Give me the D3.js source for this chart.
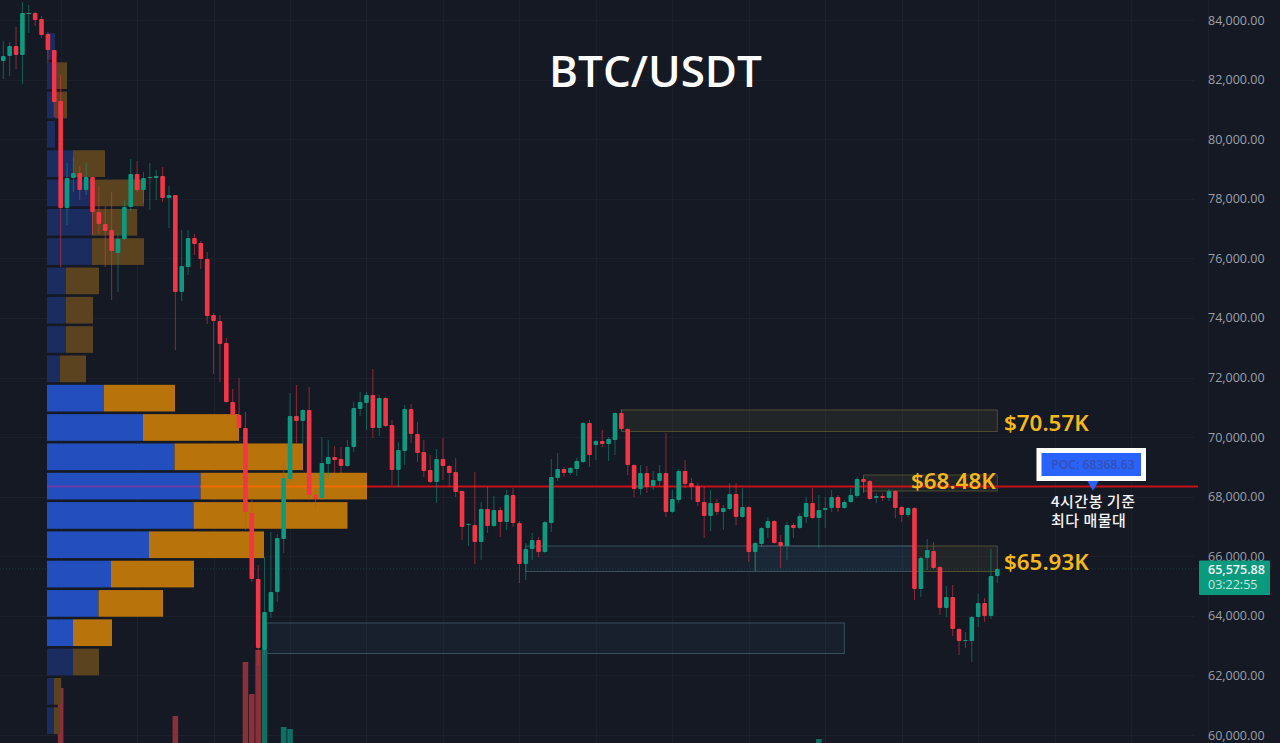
<!DOCTYPE html>
<html>
<head>
<meta charset="utf-8">
<title>BTC/USDT</title>
<script src="https://cdn.jsdelivr.net/npm/d3@7"></script>
<style>
  html, body { margin: 0; padding: 0; background: #151924; overflow: hidden; }
  svg { display: block; }
</style>
</head>
<body>
<svg id="chart"></svg>
<script>
/* global d3 */

// 4h candles
const opens = [
  82623,82792,83127,82825,84201,84234,84034,83530,82993,81281,
  77689,78696,78864,78293,78730,77555,77152,76951,76178,76649,
  77723,78831,78293,78696,78696,78764,78024,78125,74870,75709,
  76682,76514,75978,74097,73896,73158,71178,70741,70304,67451,
  65237,62853,64129,64800,66579,68593,70708,70539,70909,68056,
  67955,69097,69331,69264,69030,69667,70942,71144,71412,70304,
  71312,70405,68895,69533,70942,70104,69499,68895,68492,69264,
  69030,68827,68190,67049,67049,66478,67586,67016,67552,67150,
  68056,67116,65740,66243,66545,66143,67116,68626,68928,68794,
  68928,69164,70472,69734,69868,69768,69902,70808,70271,69063,
  68257,68794,68358,68525,68794,67485,67888,68861,68458,68358,
  67821,67351,67787,67485,67586,68089,67317,67653,66143,66411,
  66948,67183,66478,66344,67049,66948,67317,67787,67284,67552,
  67619,67988,67619,67821,68022,68593,68525,67955,68022,67955,
  68190,67653,67385,67619,64900,65941,66176,65639,64263,64632,
  63558,63155,63155,63961,64431,63994,65337
];
const highs = [
  83294,83261,83765,84604,84503,84268,84134,83597,82993,82153,
  79199,79401,79099,79199,78730,78394,77757,78226,76850,77958,
  79334,79266,78898,79199,78965,79065,78428,78125,76951,76951,
  76817,76581,76212,74164,74097,73325,71614,71983,70842,67888,
  65706,65975,66814,66747,69130,71479,71748,70942,71681,68224,
  70003,69902,69701,69667,69902,71178,71513,71513,72286,71412,
  71345,70573,69835,71077,71111,70506,69902,69398,69600,69969,
  69063,69298,68190,67116,68827,67821,68324,68022,67653,68224,
  68291,67183,66445,66780,66646,67183,69264,69465,68996,68996,
  69298,70506,70573,69902,70238,70003,70842,70942,70304,69097,
  69063,69030,68861,69063,70137,68224,68928,69231,68626,68458,
  68324,68224,67922,67720,68458,68458,68291,67687,66478,66982,
  67317,67216,66713,67150,67116,67451,67988,68291,68056,67988,
  68224,68056,67888,68291,68660,68660,68559,68123,68123,68257,
  68220,67687,67653,67650,65975,66579,66478,65670,65001,65035,
  63591,63457,63995,64733,64598,66243,65605
];
const lows = [
  82019,82120,82355,81852,83563,83799,83395,82556,80744,75709,
  77118,78226,77958,78125,76783,76850,75709,74601,74870,76615,
  77555,78226,77857,77622,77958,77891,77017,72923,74567,75440,
  76111,75642,73796,72118,71849,71150,70741,70304,66881,65136,
  62349,62685,63927,64464,66109,68525,69801,69734,67888,67619,
  67888,68626,68794,68794,68996,69499,70708,70238,69969,70037,
  70340,68391,68324,69063,69801,69164,68660,68458,67787,68559,
  68324,67988,66545,66344,65740,65874,66780,66982,66646,66881,
  66982,65102,65203,65874,65975,66110,66814,68525,68660,68727,
  68693,69130,68996,69231,69667,69197,69398,70238,68727,67988,
  68056,68123,68224,68324,67317,67451,67787,68291,67888,67687,
  66612,66847,67385,66881,67552,67049,67284,65807,65505,66311,
  66612,66415,65606,65874,66612,66915,67116,67250,66277,66948,
  67485,67485,67586,67787,67955,68123,67888,67787,67854,67854,
  67284,67150,67317,64531,64632,65538,65575,64028,63961,63323,
  62685,62920,62450,63625,63793,63894,65102
];
const closes = [
  82792,83127,82825,84234,84234,84000,83496,82993,81247,77689,
  78696,78864,78293,78730,77555,77152,76917,76245,76649,77723,
  78831,78293,78696,78730,78764,78024,78125,74870,75743,76682,
  76481,75978,74064,73896,73125,71178,70741,70304,67485,65237,
  62920,64129,64800,66612,68626,70708,70539,70909,68056,67922,
  69130,69331,69231,69030,69667,70976,71178,71412,70304,71312,
  70372,68895,69566,70942,70104,69465,68861,68492,69264,69030,
  68794,68156,66982,67083,66478,67586,67016,67552,67150,68056,
  67116,65740,66243,66545,66143,67150,68660,68928,68794,68962,
  69197,70472,69398,69868,69768,69935,70808,70271,69063,68257,
  68794,68324,68559,68794,67485,67922,68861,68425,68324,67821,
  67351,67787,67485,67619,68089,67317,67653,66143,66445,66948,
  67183,66445,66344,67049,66948,67351,67787,67284,67552,67619,
  67988,67619,67821,68056,68593,68492,67922,68022,67955,68190,
  67619,67385,67619,64900,65941,66210,65605,64263,64632,63558,
  63155,63189,63961,64431,63994,65337,65575.88
];

// only the volume bars that poke into the visible window
const volumeBars = [9, 27, 38, 39, 40, 41, 44, 45, 128];
const volumeValues = [55, 27, 81, 49, 93, 93, 16, 14, 4];

// visible range volume profile, top row first
const profileUp = [8, 10, 8, 8, 26, 46, 45, 45, 19, 19, 19, 13, 57, 96, 127.5, 153.5, 146.5, 102, 64, 51.5, 26, 26, 7, 7];
const profileDown = [0, 10, 12, 0, 32, 51, 45, 52, 33, 27, 27, 26, 71, 96, 128.5, 166.5, 154, 115, 83, 64.5, 39, 26, 7, 6];
const profileTop = 83563;
const profileBottom = 60034;
const valueAreaFirst = 12;
const valueAreaLast = 20;

// supply / demand boxes
const zoneKinds = ['supply', 'supply', 'demand', 'demand', 'demand', 'supply'];
const zoneStart = [97, 135, 82, 118, 41, 143];
const zoneEnd = [156, 156, 143, 143, 132, 156];
const zoneHigh = [70909, 68727, 66344, 66344, 63760, 66344];
const zoneLow = [70187, 68190, 65488, 65488, 62735, 65488];

const levelLabels = ['$70.57K', '$68.48K', '$65.93K'];
const levelPrices = [70473, 68527, 65803];

const priceTicks = d3.range(60000, 84001, 2000);
const pocPrice = 68368.63;
const lastPrice = 65575.88;
const countdown = '03:22:55';

const width = 1280;
const height = 743;
const plotRight = 1198;

const svg = d3.select('#chart').attr('width', width).attr('height', height);

const x = d3.scaleLinear().domain([0, 156]).range([3.3, 997.3]);
const y = d3.scaleLinear().domain([60000, 84000]).range([735, 20]);
const vol = d3.scaleLinear().domain([0, 100]).range([height, height - 100]);
const profileX = d3.scaleLinear().domain([0, 320]).range([47, 367]);
const profileY = d3.scaleBand()
  .domain(d3.range(profileUp.length))
  .range([y(profileTop), y(profileBottom)])
  .paddingInner(0.09);

svg.append('rect').attr('width', width).attr('height', height).attr('fill', '#151924');

/* GRID */
const grid = svg.append('g').attr('stroke', '#1b202c').attr('stroke-width', 1);
grid.selectAll('line.h')
  .data(priceTicks)
  .enter().append('line')
    .attr('class', 'h')
    .attr('x1', 0).attr('x2', 1194)
    .attr('y1', d => Math.round(y(d)) + 0.5)
    .attr('y2', d => Math.round(y(d)) + 0.5);
grid.selectAll('line.v')
  .data(d3.range(9, 190, 12))
  .enter().append('line')
    .attr('class', 'v')
    .attr('x1', d => Math.round(x(d)) + 0.5)
    .attr('x2', d => Math.round(x(d)) + 0.5)
    .attr('y1', 0).attr('y2', height);

/* LAST PRICE LINE */
svg.append('line')
  .attr('x1', 0).attr('x2', plotRight)
  .attr('y1', y(lastPrice)).attr('y2', y(lastPrice))
  .attr('stroke', '#0c5a50').attr('stroke-opacity', 0.6)
  .attr('stroke-dasharray', '1 2');

/* VOLUME */
svg.append('g').selectAll('rect')
  .data(volumeBars)
  .enter().append('rect')
    .attr('x', d => x(d) - 2.8)
    .attr('width', 5.6)
    .attr('y', (d, i) => vol(volumeValues[i]))
    .attr('height', (d, i) => height - vol(volumeValues[i]))
    .attr('fill', d => closes[d] >= opens[d] ? '#0e6f62' : '#8a3039');

/* VOLUME PROFILE */
const rows = svg.append('g').selectAll('g')
  .data(d3.range(profileUp.length))
  .enter().append('g');
const inValueArea = i => i >= valueAreaFirst && i <= valueAreaLast;
rows.append('rect')
  .attr('x', profileX(0))
  .attr('y', i => profileY(i))
  .attr('width', i => profileX(profileUp[i]) - profileX(0))
  .attr('height', profileY.bandwidth())
  .attr('fill', i => inValueArea(i) ? '#224ebe' : '#1a2c60');
rows.append('rect')
  .attr('x', i => profileX(profileUp[i]))
  .attr('y', i => profileY(i))
  .attr('width', i => profileX(profileUp[i] + profileDown[i]) - profileX(profileUp[i]))
  .attr('height', profileY.bandwidth())
  .attr('fill', i => inValueArea(i) ? '#b8730a' : '#5b4320');

/* ZONES */
svg.append('g').selectAll('rect')
  .data(zoneKinds)
  .enter().append('rect')
    .attr('x', (d, i) => x(zoneStart[i]))
    .attr('y', (d, i) => y(zoneHigh[i]))
    .attr('width', (d, i) => x(zoneEnd[i]) - x(zoneStart[i]))
    .attr('height', (d, i) => y(zoneLow[i]) - y(zoneHigh[i]))
    .attr('fill', d => d === 'supply' ? 'rgba(150,140,70,0.11)' : 'rgba(60,110,150,0.09)')
    .attr('stroke', d => d === 'supply' ? '#4e4d2c' : '#394f5c')
    .attr('stroke-width', 1);

/* POC LINE - tinted where it runs over the profile */
const pocRow = profileUp.findIndex((d, i) => y(pocPrice) < profileY(i) + profileY.bandwidth());
const pocY = y(pocPrice) + 0.7;
svg.append('line')
  .attr('x1', profileX(0)).attr('x2', profileX(profileUp[pocRow]))
  .attr('y1', pocY).attr('y2', pocY)
  .attr('stroke', '#6b3fa8').attr('stroke-width', 2);
svg.append('line')
  .attr('x1', profileX(profileUp[pocRow])).attr('x2', profileX(profileUp[pocRow] + profileDown[pocRow]))
  .attr('y1', pocY).attr('y2', pocY)
  .attr('stroke', '#ef6c00').attr('stroke-width', 2);
svg.append('line')
  .attr('x1', profileX(profileUp[pocRow] + profileDown[pocRow])).attr('x2', plotRight)
  .attr('y1', pocY).attr('y2', pocY)
  .attr('stroke', '#c8101a').attr('stroke-width', 2);

/* CANDLES */
const candleColor = i => closes[i] >= opens[i] ? '#0c9b80' : '#f23645';
const candles = svg.append('g').selectAll('g')
  .data(d3.range(opens.length))
  .enter().append('g');
candles.append('line')
  .attr('x1', i => x(i)).attr('x2', i => x(i))
  .attr('y1', i => y(highs[i])).attr('y2', i => y(lows[i]))
  .attr('stroke', candleColor)
  .attr('stroke-opacity', 0.55);
candles.append('rect')
  .attr('x', i => x(i) - 2.3)
  .attr('width', 4.6)
  .attr('y', i => y(Math.max(opens[i], closes[i])))
  .attr('height', i => Math.max(1, Math.abs(y(opens[i]) - y(closes[i]))))
  .attr('rx', 1)
  .attr('fill', candleColor);

/* PRICE AXIS */
const axis = svg.append('g')
  .attr('transform', 'translate(1208,0)')
  .call(d3.axisRight(y).tickValues(priceTicks).tickFormat(d3.format(',.2f')).tickSize(0).tickPadding(0));
axis.select('.domain').remove();
axis.selectAll('text')
  .attr('fill', '#9ca0aa')
  .style('font-family', '"Open Sans", sans-serif')
  .style('font-size', '12.5px');

/* LAST PRICE TAG */
svg.append('rect')
  .attr('x', 1199).attr('y', y(lastPrice) - 8.5)
  .attr('width', 71).attr('height', 34.5)
  .attr('rx', 1)
  .attr('fill', '#0a9a7e');
svg.append('text')
  .attr('x', 1208).attr('y', y(lastPrice) + 5)
  .attr('fill', '#f2f5f5')
  .style('font-family', '"Open Sans", sans-serif')
  .style('font-size', '12.5px').style('font-weight', 600)
  .text(d3.format(',.2f')(lastPrice));
svg.append('text')
  .attr('x', 1208).attr('y', y(lastPrice) + 20)
  .attr('fill', '#c6e8e0')
  .style('font-family', '"Open Sans", sans-serif')
  .style('font-size', '12.5px')
  .text(countdown);

/* TITLE AND LEVEL LABELS */
svg.append('text')
  .attr('x', 655.5).attr('y', 87)
  .attr('text-anchor', 'middle')
  .attr('fill', '#ffffff')
  .style('font-family', '"Open Sans", sans-serif')
  .style('font-size', '44px').style('font-weight', 600)
  .text('BTC/USDT');

svg.append('g').selectAll('text')
  .data(levelLabels)
  .enter().append('text')
    .attr('x', (d, i) => i === 1 ? 911 : 1004)
    .attr('y', (d, i) => y(levelPrices[i]) + 8)
    .attr('fill', '#f5b71a')
    .style('font-family', '"Noto Sans", sans-serif')
    .style('font-size', '22.4px').style('font-weight', 600)
    .text(d => d);

/* POC CALLOUT */
svg.append('path')
  .attr('d', d3.symbol(d3.symbolTriangle, 70)())
  .attr('transform', `translate(1093,${pocY - 3}) rotate(180)`)
  .attr('fill', '#2962ff');
svg.append('rect')
  .attr('x', 1039).attr('y', 450.5)
  .attr('width', 104.5).attr('height', 28)
  .attr('fill', '#2962ff')
  .attr('stroke', '#ffffff').attr('stroke-width', 5);
svg.append('text')
  .attr('x', 1093).attr('y', 469)
  .attr('text-anchor', 'middle')
  .attr('fill', '#3650ad')
  .style('font-family', '"Open Sans", sans-serif')
  .style('font-size', '12.2px').style('font-weight', 600)
  .text('POC: ' + pocPrice);

svg.append('g').selectAll('text')
  .data(['4시간봉 기준', '최다 매물대'])
  .enter().append('text')
    .attr('x', 1051)
    .attr('y', (d, i) => 507 + i * 19)
    .attr('fill', '#f4f4f4')
    .style('font-family', '"Noto Sans CJK KR", sans-serif')
    .style('font-size', '15px').style('font-weight', 500)
    .style('letter-spacing', '0.5px')
    .text(d => d);
</script>
</body>
</html>
